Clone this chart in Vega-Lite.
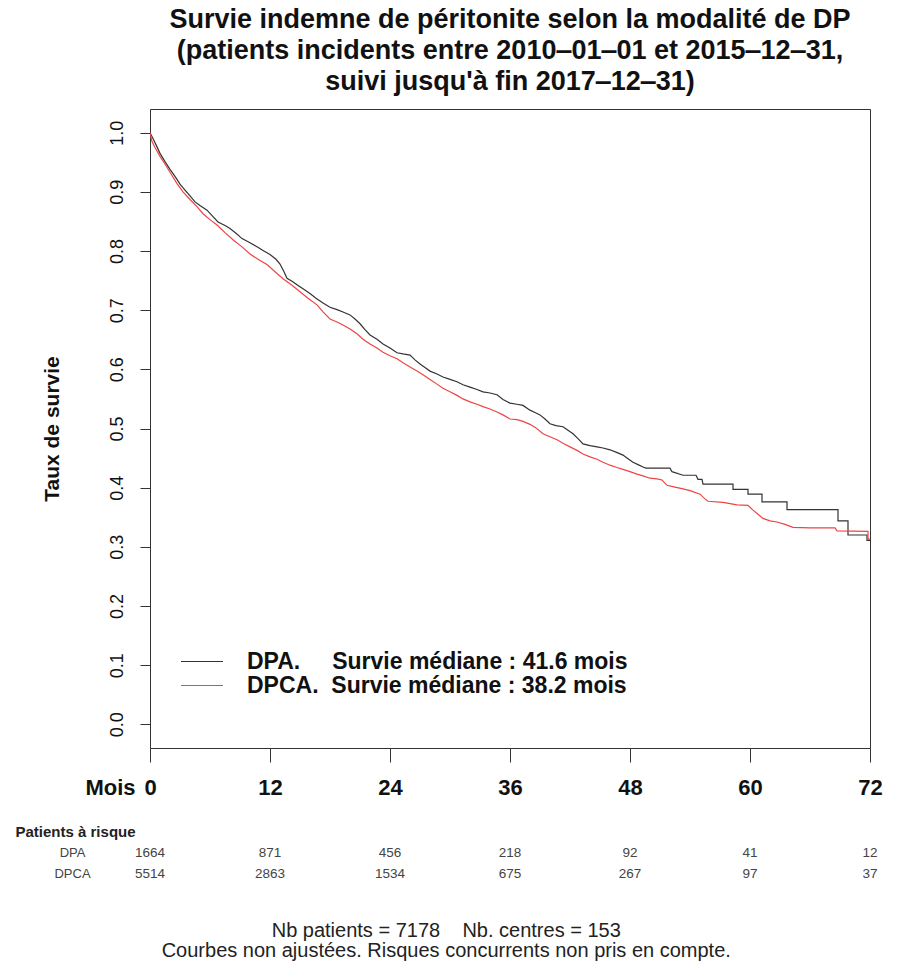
{
"$schema":"https://vega.github.io/schema/vega-lite/v6.json",
"background":"white",
"padding":{"left":15,"top":5,"right":10,"bottom":10},
"spacing":25,
"config":{"font":"Liberation Sans","view":{"stroke":"#333","strokeWidth":1}},
"datasets":{
"surv":[
{"g":"DPA","o":1,"t":0,"s":1.0},{"g":"DPA","o":2,"t":0.3,"s":0.99},{"g":"DPA","o":3,"t":0.7,"s":0.976},{"g":"DPA","o":4,"t":1.0,"s":0.965},{"g":"DPA","o":5,"t":1.5,"s":0.951},{"g":"DPA","o":6,"t":2.0,"s":0.938},{"g":"DPA","o":7,"t":2.5,"s":0.926},{"g":"DPA","o":8,"t":3.0,"s":0.913},{"g":"DPA","o":9,"t":3.5,"s":0.903},{"g":"DPA","o":10,"t":4.0,"s":0.893},{"g":"DPA","o":11,"t":4.5,"s":0.883},{"g":"DPA","o":12,"t":5.0,"s":0.877},{"g":"DPA","o":13,"t":5.7,"s":0.869},{"g":"DPA","o":14,"t":6.3,"s":0.858},{"g":"DPA","o":15,"t":6.8,"s":0.849},{"g":"DPA","o":16,"t":7.5,"s":0.843},{"g":"DPA","o":17,"t":8.0,"s":0.838},{"g":"DPA","o":18,"t":8.6,"s":0.83},{"g":"DPA","o":19,"t":9.2,"s":0.821},{"g":"DPA","o":20,"t":10.0,"s":0.814},{"g":"DPA","o":21,"t":10.7,"s":0.807},{"g":"DPA","o":22,"t":11.3,"s":0.801},{"g":"DPA","o":23,"t":12.0,"s":0.794},{"g":"DPA","o":24,"t":12.6,"s":0.786},{"g":"DPA","o":25,"t":13.0,"s":0.778},{"g":"DPA","o":26,"t":13.4,"s":0.765},{"g":"DPA","o":27,"t":13.7,"s":0.754},{"g":"DPA","o":28,"t":14.2,"s":0.749},{"g":"DPA","o":29,"t":14.7,"s":0.743},{"g":"DPA","o":30,"t":15.3,"s":0.736},{"g":"DPA","o":31,"t":16.0,"s":0.728},{"g":"DPA","o":32,"t":16.6,"s":0.72},{"g":"DPA","o":33,"t":17.3,"s":0.712},{"g":"DPA","o":34,"t":18.0,"s":0.705},{"g":"DPA","o":35,"t":18.7,"s":0.701},{"g":"DPA","o":36,"t":19.3,"s":0.697},{"g":"DPA","o":37,"t":20.0,"s":0.692},{"g":"DPA","o":38,"t":20.5,"s":0.685},{"g":"DPA","o":39,"t":21.0,"s":0.677},{"g":"DPA","o":40,"t":21.5,"s":0.667},{"g":"DPA","o":41,"t":22.0,"s":0.658},{"g":"DPA","o":42,"t":22.7,"s":0.651},{"g":"DPA","o":43,"t":23.3,"s":0.643},{"g":"DPA","o":44,"t":24.0,"s":0.636},{"g":"DPA","o":45,"t":24.7,"s":0.628},{"g":"DPA","o":46,"t":25.3,"s":0.626},{"g":"DPA","o":47,"t":26.0,"s":0.624},{"g":"DPA","o":48,"t":26.5,"s":0.616},{"g":"DPA","o":49,"t":27.0,"s":0.609},{"g":"DPA","o":50,"t":27.5,"s":0.603},{"g":"DPA","o":51,"t":28.0,"s":0.597},{"g":"DPA","o":52,"t":28.7,"s":0.592},{"g":"DPA","o":53,"t":29.3,"s":0.587},{"g":"DPA","o":54,"t":30.0,"s":0.583},{"g":"DPA","o":55,"t":30.7,"s":0.579},{"g":"DPA","o":56,"t":31.3,"s":0.574},{"g":"DPA","o":57,"t":32.0,"s":0.57},{"g":"DPA","o":58,"t":32.7,"s":0.566},{"g":"DPA","o":59,"t":33.3,"s":0.562},{"g":"DPA","o":60,"t":34.0,"s":0.56},{"g":"DPA","o":61,"t":34.7,"s":0.557},{"g":"DPA","o":62,"t":35.3,"s":0.549},{"g":"DPA","o":63,"t":36.0,"s":0.543},{"g":"DPA","o":64,"t":36.7,"s":0.541},{"g":"DPA","o":65,"t":37.3,"s":0.539},{"g":"DPA","o":66,"t":38.0,"s":0.531},{"g":"DPA","o":67,"t":38.5,"s":0.527},{"g":"DPA","o":68,"t":39.0,"s":0.523},{"g":"DPA","o":69,"t":39.5,"s":0.516},{"g":"DPA","o":70,"t":40.0,"s":0.508},{"g":"DPA","o":71,"t":40.6,"s":0.505},{"g":"DPA","o":72,"t":41.3,"s":0.503},{"g":"DPA","o":73,"t":41.8,"s":0.497},{"g":"DPA","o":74,"t":42.3,"s":0.491},{"g":"DPA","o":75,"t":42.8,"s":0.483},{"g":"DPA","o":76,"t":43.3,"s":0.474},{"g":"DPA","o":77,"t":44.0,"s":0.471},{"g":"DPA","o":78,"t":44.7,"s":0.469},{"g":"DPA","o":79,"t":45.3,"s":0.467},{"g":"DPA","o":80,"t":46.0,"s":0.464},{"g":"DPA","o":81,"t":46.6,"s":0.46},{"g":"DPA","o":82,"t":47.3,"s":0.455},{"g":"DPA","o":83,"t":47.8,"s":0.449},{"g":"DPA","o":84,"t":48.3,"s":0.443},{"g":"DPA","o":85,"t":48.8,"s":0.439},{"g":"DPA","o":86,"t":49.3,"s":0.435},{"g":"DPA","o":87,"t":49.6,"s":0.433},{"g":"DPA","o":88,"t":52.0,"s":0.433},{"g":"DPA","o":89,"t":52.2,"s":0.427},{"g":"DPA","o":90,"t":53.3,"s":0.421},{"g":"DPA","o":91,"t":54.6,"s":0.421},{"g":"DPA","o":92,"t":54.8,"s":0.414},{"g":"DPA","o":93,"t":55.2,"s":0.414},{"g":"DPA","o":94,"t":55.3,"s":0.406},{"g":"DPA","o":95,"t":58.3,"s":0.406},{"g":"DPA","o":96,"t":58.3,"s":0.397},{"g":"DPA","o":97,"t":59.8,"s":0.397},{"g":"DPA","o":98,"t":59.8,"s":0.389},{"g":"DPA","o":99,"t":61.2,"s":0.389},{"g":"DPA","o":100,"t":61.2,"s":0.376},{"g":"DPA","o":101,"t":63.7,"s":0.376},{"g":"DPA","o":102,"t":63.7,"s":0.363},{"g":"DPA","o":103,"t":68.8,"s":0.363},{"g":"DPA","o":104,"t":68.8,"s":0.344},{"g":"DPA","o":105,"t":69.8,"s":0.344},{"g":"DPA","o":106,"t":69.8,"s":0.32},{"g":"DPA","o":107,"t":71.7,"s":0.32},{"g":"DPA","o":108,"t":71.7,"s":0.311},{"g":"DPA","o":109,"t":72,"s":0.311},
{"g":"DPCA","o":1,"t":0,"s":1.0},{"g":"DPCA","o":2,"t":0.2,"s":0.985},{"g":"DPCA","o":3,"t":0.5,"s":0.975},{"g":"DPCA","o":4,"t":1.0,"s":0.96},{"g":"DPCA","o":5,"t":1.5,"s":0.947},{"g":"DPCA","o":6,"t":2.0,"s":0.933},{"g":"DPCA","o":7,"t":2.7,"s":0.914},{"g":"DPCA","o":8,"t":3.3,"s":0.9},{"g":"DPCA","o":9,"t":4.0,"s":0.887},{"g":"DPCA","o":10,"t":4.7,"s":0.875},{"g":"DPCA","o":11,"t":5.3,"s":0.863},{"g":"DPCA","o":12,"t":6.0,"s":0.853},{"g":"DPCA","o":13,"t":6.7,"s":0.844},{"g":"DPCA","o":14,"t":7.5,"s":0.831},{"g":"DPCA","o":15,"t":8.3,"s":0.819},{"g":"DPCA","o":16,"t":9.2,"s":0.807},{"g":"DPCA","o":17,"t":10.0,"s":0.795},{"g":"DPCA","o":18,"t":10.8,"s":0.786},{"g":"DPCA","o":19,"t":11.7,"s":0.777},{"g":"DPCA","o":20,"t":12.5,"s":0.765},{"g":"DPCA","o":21,"t":13.3,"s":0.753},{"g":"DPCA","o":22,"t":14.2,"s":0.742},{"g":"DPCA","o":23,"t":15.0,"s":0.731},{"g":"DPCA","o":24,"t":15.8,"s":0.72},{"g":"DPCA","o":25,"t":16.7,"s":0.709},{"g":"DPCA","o":26,"t":17.3,"s":0.697},{"g":"DPCA","o":27,"t":18.0,"s":0.685},{"g":"DPCA","o":28,"t":18.7,"s":0.68},{"g":"DPCA","o":29,"t":19.3,"s":0.675},{"g":"DPCA","o":30,"t":20.0,"s":0.668},{"g":"DPCA","o":31,"t":20.7,"s":0.66},{"g":"DPCA","o":32,"t":21.3,"s":0.651},{"g":"DPCA","o":33,"t":22.0,"s":0.643},{"g":"DPCA","o":34,"t":22.7,"s":0.636},{"g":"DPCA","o":35,"t":23.3,"s":0.629},{"g":"DPCA","o":36,"t":24.0,"s":0.623},{"g":"DPCA","o":37,"t":24.7,"s":0.618},{"g":"DPCA","o":38,"t":25.3,"s":0.611},{"g":"DPCA","o":39,"t":26.0,"s":0.604},{"g":"DPCA","o":40,"t":26.7,"s":0.597},{"g":"DPCA","o":41,"t":27.3,"s":0.591},{"g":"DPCA","o":42,"t":28.0,"s":0.583},{"g":"DPCA","o":43,"t":28.7,"s":0.575},{"g":"DPCA","o":44,"t":29.3,"s":0.568},{"g":"DPCA","o":45,"t":30.0,"s":0.562},{"g":"DPCA","o":46,"t":30.7,"s":0.556},{"g":"DPCA","o":47,"t":31.3,"s":0.55},{"g":"DPCA","o":48,"t":32.0,"s":0.545},{"g":"DPCA","o":49,"t":32.7,"s":0.541},{"g":"DPCA","o":50,"t":33.3,"s":0.537},{"g":"DPCA","o":51,"t":34.0,"s":0.533},{"g":"DPCA","o":52,"t":34.7,"s":0.528},{"g":"DPCA","o":53,"t":35.3,"s":0.523},{"g":"DPCA","o":54,"t":36.0,"s":0.516},{"g":"DPCA","o":55,"t":36.7,"s":0.515},{"g":"DPCA","o":56,"t":37.3,"s":0.512},{"g":"DPCA","o":57,"t":38.0,"s":0.507},{"g":"DPCA","o":58,"t":38.6,"s":0.501},{"g":"DPCA","o":59,"t":39.3,"s":0.491},{"g":"DPCA","o":60,"t":40.0,"s":0.486},{"g":"DPCA","o":61,"t":40.7,"s":0.481},{"g":"DPCA","o":62,"t":41.3,"s":0.475},{"g":"DPCA","o":63,"t":42.0,"s":0.469},{"g":"DPCA","o":64,"t":42.7,"s":0.463},{"g":"DPCA","o":65,"t":43.3,"s":0.457},{"g":"DPCA","o":66,"t":44.0,"s":0.452},{"g":"DPCA","o":67,"t":44.7,"s":0.448},{"g":"DPCA","o":68,"t":45.3,"s":0.443},{"g":"DPCA","o":69,"t":46.0,"s":0.438},{"g":"DPCA","o":70,"t":46.7,"s":0.434},{"g":"DPCA","o":71,"t":47.3,"s":0.431},{"g":"DPCA","o":72,"t":48.0,"s":0.427},{"g":"DPCA","o":73,"t":48.7,"s":0.423},{"g":"DPCA","o":74,"t":49.3,"s":0.42},{"g":"DPCA","o":75,"t":50.0,"s":0.416},{"g":"DPCA","o":76,"t":50.7,"s":0.415},{"g":"DPCA","o":77,"t":51.2,"s":0.413},{"g":"DPCA","o":78,"t":51.7,"s":0.404},{"g":"DPCA","o":79,"t":52.5,"s":0.401},{"g":"DPCA","o":80,"t":53.3,"s":0.398},{"g":"DPCA","o":81,"t":54.0,"s":0.395},{"g":"DPCA","o":82,"t":55.0,"s":0.389},{"g":"DPCA","o":83,"t":55.5,"s":0.381},{"g":"DPCA","o":84,"t":55.8,"s":0.377},{"g":"DPCA","o":85,"t":57.3,"s":0.375},{"g":"DPCA","o":86,"t":58.7,"s":0.371},{"g":"DPCA","o":87,"t":59.8,"s":0.37},{"g":"DPCA","o":88,"t":60.3,"s":0.362},{"g":"DPCA","o":89,"t":60.8,"s":0.355},{"g":"DPCA","o":90,"t":61.3,"s":0.348},{"g":"DPCA","o":91,"t":62.0,"s":0.344},{"g":"DPCA","o":92,"t":62.7,"s":0.342},{"g":"DPCA","o":93,"t":63.5,"s":0.338},{"g":"DPCA","o":94,"t":64.3,"s":0.333},{"g":"DPCA","o":95,"t":66.0,"s":0.332},{"g":"DPCA","o":96,"t":68.5,"s":0.332},{"g":"DPCA","o":97,"t":68.7,"s":0.327},{"g":"DPCA","o":98,"t":71.8,"s":0.326},{"g":"DPCA","o":99,"t":71.8,"s":0.313},{"g":"DPCA","o":100,"t":72,"s":0.313}
],
"risk":[
{"g":"DPA","t":0,"n":1664},{"g":"DPA","t":12,"n":871},{"g":"DPA","t":24,"n":456},{"g":"DPA","t":36,"n":218},{"g":"DPA","t":48,"n":92},{"g":"DPA","t":60,"n":41},{"g":"DPA","t":72,"n":12},
{"g":"DPCA","t":0,"n":5514},{"g":"DPCA","t":12,"n":2863},{"g":"DPCA","t":24,"n":1534},{"g":"DPCA","t":36,"n":675},{"g":"DPCA","t":48,"n":267},{"g":"DPCA","t":60,"n":97},{"g":"DPCA","t":72,"n":37}
]
},
"vconcat":[
{
"width":720,"height":639,
"title":{"text":["Survie indemne de péritonite selon la modalité de DP","(patients incidents entre 2010\u201201\u201201 et 2015\u201212\u201231,","suivi jusqu'à fin 2017\u201212\u201231)"],"fontSize":27,"fontWeight":"bold","lineHeight":31,"anchor":"middle","offset":13,"color":"#111"},
"data":{"name":"surv"},
"mark":{"type":"line","strokeWidth":1.2,"interpolate":"linear","clip":true},
"encoding":{
"x":{"field":"t","type":"quantitative","scale":{"domain":[0,72],"nice":false},
"axis":{"values":[0,12,24,36,48,60,72],"title":"Mois","titleX":-40,"titleY":29,"titleAlign":"center","titleBaseline":"top","titleFontSize":22,"titleFontWeight":"bold","titleColor":"#111","labelFontSize":22,"labelFontWeight":"bold","labelColor":"#111","labelPadding":15,"tickSize":14,"tickColor":"#333","domain":false,"grid":false,"labelFlush":false,"labelOverlap":false}},
"y":{"field":"s","type":"quantitative","scale":{"domain":[-0.04,1.04],"nice":false,"zero":false},
"axis":{"values":[0,0.1,0.2,0.3,0.4,0.5,0.6,0.7,0.8,0.9,1.0],"format":".1f","title":"Taux de survie","titleFontSize":21,"titleFontWeight":"bold","titleColor":"#111","titleX":-98,"titleY":319.5,"titleAngle":270,"titleAlign":"center","titleBaseline":"middle","labelAngle":270,"labelAlign":"center","labelBaseline":"bottom","labelFontSize":18,"labelColor":"#111","labelPadding":14,"tickSize":10,"tickColor":"#333","domain":false,"grid":false}},
"color":{"field":"g","type":"nominal","scale":{"domain":["DPA","DPCA"],"range":["#333333","#ee4444"]},
"legend":{"title":null,"orient":"none","legendX":30,"legendY":541,"symbolType":"stroke","symbolSize":1764,"symbolStrokeWidth":1.2,"clipHeight":23,"labelFontSize":23,"labelFontWeight":"bold","labelColor":"#111","labelOffset":23,"labelLimit":0,"rowPadding":0,
"labelExpr":"datum.label == 'DPA' ? 'DPA.\u00a0\u00a0\u00a0\u00a0\u00a0Survie médiane : 41.6 mois' : 'DPCA.\u00a0\u00a0Survie médiane : 38.2 mois'"}},
"order":{"field":"o","type":"quantitative"}
}
},
{
"width":720,"height":42,
"view":{"stroke":null},
"data":{"name":"risk"},
"title":{"text":["Nb patients = 7178\u00a0\u00a0\u00a0\u00a0Nb. centres = 153","Courbes non ajustées. Risques concurrents non pris en compte."],"orient":"bottom","anchor":"middle","frame":"bounds","fontSize":20,"fontWeight":"normal","color":"#222","lineHeight":20,"offset":37},
"mark":{"type":"text","fontSize":13.5,"color":"#444"},
"encoding":{
"x":{"field":"t","type":"quantitative","scale":{"domain":[0,72],"nice":false},"axis":null},
"y":{"field":"g","type":"nominal","scale":{"domain":["DPA","DPCA"],"paddingInner":0,"paddingOuter":0},
"axis":{"title":"Patients à risque","titleAngle":0,"titleAlign":"left","titleBaseline":"middle","titleX":-135,"titleY":-11,"titleFontSize":15,"titleFontWeight":"bold","titleColor":"#222","domain":false,"ticks":false,"tickSize":0,"labelAlign":"center","labelPadding":78,"labelFontSize":13,"labelColor":"#444"}},
"text":{"field":"n","type":"quantitative","format":"d"}
}
}
]
}
